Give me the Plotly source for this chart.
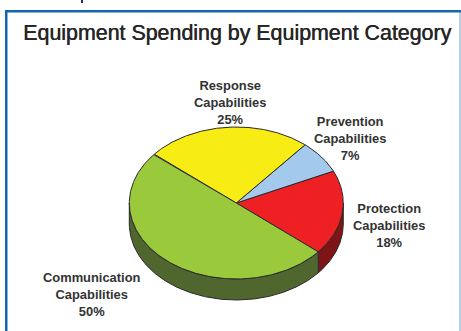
import numpy as np
import plotly.graph_objects as go

# Spending shares, listed counter-clockwise from the lower-right edge of the pie
categories = ["Protection Capabilities", "Prevention Capabilities",
              "Response Capabilities", "Communication Capabilities"]
shares = [18, 7, 25, 50]

top_colors = ["#ee2024", "#a3c9ec", "#f7ec13", "#9aca3c"]
side_colors = ["#7d1416", "#7a97b1", "#b9b10e", "#50662f"]

# Tilted-pie geometry, in pixels
W, H = 461, 331
CX, CY, RX, RY, DEPTH = 236.3, 203, 107, 76, 21
START_DEG = -40
OUTLINE = "#2a2a2a"

# Label centres, in pixels
label_xy = [(389, 225), (350, 138), (230, 102), (92, 294)]


def rim(a0, a1, dy=0.0):
    t = np.radians(np.linspace(a0, a1, max(int(abs(a1 - a0)) * 2, 2)))
    return CX + RX * np.cos(t), CY + dy - RY * np.sin(t)


fig = go.Figure()


def polygon(x, y, color):
    fig.add_trace(go.Scatter(x=list(x), y=list(y), mode="lines", fill="toself",
                             fillcolor=color, line=dict(color=OUTLINE, width=1),
                             hoverinfo="skip", showlegend=False))


edges = START_DEG + np.concatenate([[0], np.cumsum(shares)]) * 3.6

# Side wall: only the part of each slice facing the viewer (lower half of the ellipse)
for i, color in enumerate(side_colors):
    for lo, hi in ((-180, 0), (180, 360)):
        a0, a1 = max(edges[i], lo), min(edges[i + 1], hi)
        if a1 > a0:
            x0, y0 = rim(a0, a1)
            x1, y1 = rim(a1, a0, DEPTH)
            polygon(np.r_[x0, x1, x0[0]], np.r_[y0, y1, y0[0]], color)

# Top face
for i, color in enumerate(top_colors):
    x, y = rim(edges[i], edges[i + 1])
    polygon(np.r_[CX, x, CX], np.r_[CY, y, CY], color)

annotations = [dict(x=236.5, y=33, text="Equipment Spending by Equipment Category",
                    showarrow=False, xref="x", yref="y", xanchor="center", yanchor="middle",
                    font=dict(family="Liberation Sans", size=21.4, color="#262626",
                              shadow="0.5px 0 0 #262626"))]
for name, share, (lx, ly) in zip(categories, shares, label_xy):
    text = "<br>".join(f"<b>{line}</b>" for line in name.split(" ") + [f"{share}%"])
    annotations.append(dict(x=lx, y=ly, text=text,
                            showarrow=False, xref="x", yref="y",
                            xanchor="center", yanchor="middle", align="center",
                            font=dict(family="Liberation Sans", size=12.9, color="#333333")))

# Panel frame: heavy top and left, hairline right, open at the bottom
shapes = [
    dict(type="line", x0=460, x1=460, y0=11, y1=H, line=dict(color="#6fa3cf", width=1)),
    dict(type="rect", x0=5, x1=W, y0=10, y1=12.5, line_width=0, fillcolor="#0f68b0"),
    dict(type="rect", x0=5, x1=7.5, y0=10, y1=H, line_width=0, fillcolor="#0f68b0"),
    dict(type="rect", x0=81, x1=83, y0=0, y1=3, line_width=0, fillcolor="#1c2f5c"),
]

fig.update_layout(
    width=W, height=H, margin=dict(l=0, r=0, t=0, b=0),
    paper_bgcolor="white", plot_bgcolor="white",
    xaxis=dict(range=[0, W], visible=False, fixedrange=True),
    yaxis=dict(range=[H, 0], visible=False, fixedrange=True),
    annotations=annotations, shapes=shapes, showlegend=False,
)
fig.write_html("out.html", config=dict(displayModeBar=False))
